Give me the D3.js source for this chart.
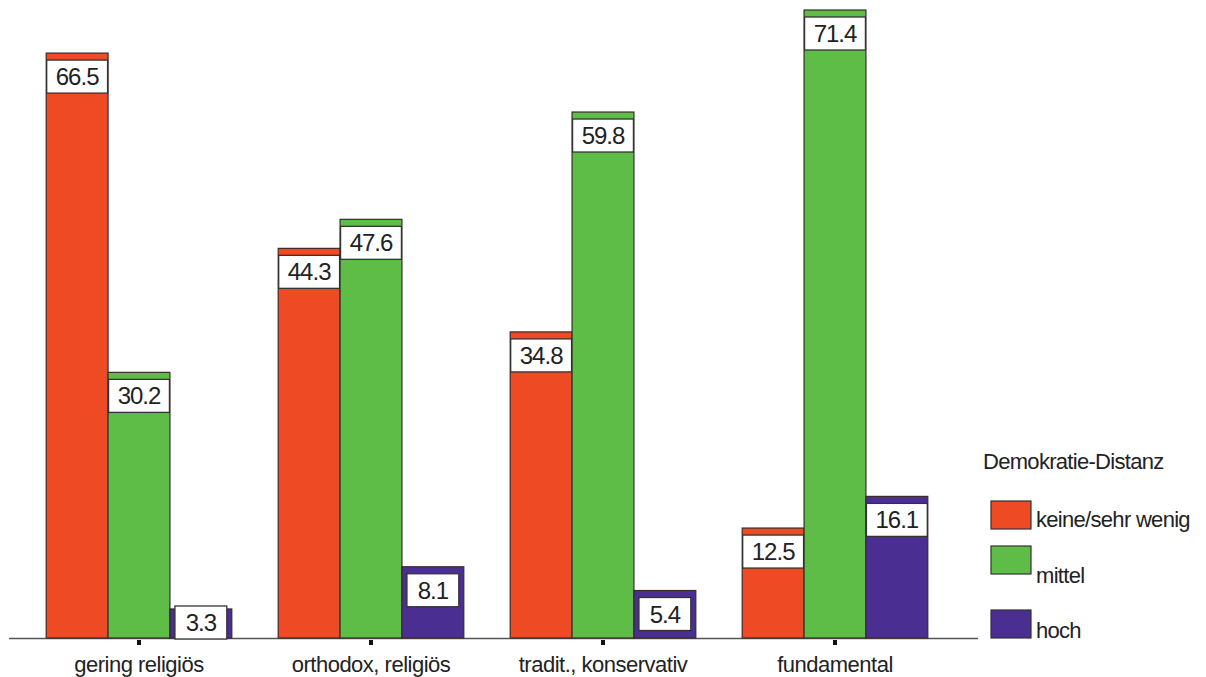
<!DOCTYPE html>
<html>
<head>
<meta charset="utf-8">
<script src="https://cdn.jsdelivr.net/npm/d3@7"></script>
<style>
  body { margin: 0; background: #fff; }
  text { font-family: "Liberation Sans", Arial, sans-serif; fill: #222; }
</style>
</head>
<body>
<script>
const categories = ["gering religiös", "orthodox, religiös", "tradit., konservativ", "fundamental"];
const series = ["keine/sehr wenig", "mittel", "hoch"];
const keineValues = [66.5, 44.3, 34.8, 12.5];
const mittelValues = [30.2, 47.6, 59.8, 71.4];
const hochValues = [3.3, 8.1, 5.4, 16.1];
const legendTitle = "Demokratie-Distanz";

const colors = ["#ee4a23", "#5dbd47", "#4b2e92"];
const valuesBySeries = [keineValues, mittelValues, hochValues];

const width = 1206, height = 677;
const baseY = 638;

let svg = d3.select("body")
    .append("svg")
    .attr("width", width)
    .attr("height", height);

let x0 = d3.scaleBand()
    .domain(categories)
    .range([23, 951])
    .paddingInner(0.2)
    .paddingOuter(0.1);

let x1 = d3.scaleBand()
    .domain(series)
    .range([0, x0.bandwidth()]);

let y = d3.scaleLinear()
    .domain([0, 71.4])
    .range([baseY, 10]);

let data = [];
categories.forEach((c, i) => {
    series.forEach((s, j) => {
        data.push({cat: c, ser: s, value: valuesBySeries[j][i], color: colors[j]});
    });
});

// axis line
svg.append("line")
    .attr("x1", 9).attr("x2", 978)
    .attr("y1", baseY + 0.5).attr("y2", baseY + 0.5)
    .style("stroke", "#555")
    .style("stroke-width", 1.5);

let groups = svg.selectAll("g.bar")
    .data(data)
    .join("g")
    .attr("class", "bar")
    .attr("transform", d => "translate(" + (x0(d.cat) + x1(d.ser)) + ",0)");

groups.append("rect")
    .attr("x", 0)
    .attr("y", d => y(d.value))
    .attr("width", x1.bandwidth())
    .attr("height", d => baseY - y(d.value))
    .style("fill", d => d.color)
    .style("stroke", "#3a2a2a")
    .style("stroke-width", 1.2);

const boxH = 33;
groups.append("rect")
    .attr("x", d => d.value < 10 ? 5 : 0.5)
    .attr("y", d => Math.min(y(d.value) + 7, baseY - boxH + 1))
    .attr("width", d => d.value < 10 ? x1.bandwidth() - 10 : x1.bandwidth() - 1)
    .attr("height", boxH)
    .style("fill", "#fff")
    .style("stroke", "#333")
    .style("stroke-width", 1.3);

groups.append("text")
    .attr("x", x1.bandwidth() / 2)
    .attr("y", d => Math.min(y(d.value) + 7, baseY - boxH + 1) + boxH / 2 + 8.5)
    .attr("text-anchor", "middle")
    .style("font-size", "24px")
    .style("letter-spacing", "-1px")
    .text(d => d.value.toFixed(1));

// ticks and category labels
let cats = svg.selectAll("g.cat")
    .data(categories)
    .join("g")
    .attr("class", "cat")
    .attr("transform", d => "translate(" + (x0(d) + x0.bandwidth() / 2) + ",0)");

cats.append("rect")
    .attr("x", -2).attr("y", baseY + 2)
    .attr("width", 4).attr("height", 5)
    .style("fill", "#111");

cats.append("text")
    .attr("y", 672)
    .attr("text-anchor", "middle")
    .style("font-size", "22px")
    .style("letter-spacing", "-0.5px")
    .text(d => d);

// legend
svg.append("text")
    .attr("x", 983).attr("y", 469)
    .style("font-size", "22px")
    .style("letter-spacing", "-0.7px")
    .text(legendTitle);

const legendY = [501, 546, 610];
const legendTextY = [527, 583, 638];
let leg = svg.selectAll("g.leg")
    .data(series)
    .join("g")
    .attr("class", "leg");

leg.append("rect")
    .attr("x", 991)
    .attr("y", (d, i) => legendY[i])
    .attr("width", 40).attr("height", 28)
    .style("fill", (d, i) => colors[i])
    .style("stroke", "#333")
    .style("stroke-width", 1.2);

leg.append("text")
    .attr("x", 1036)
    .attr("y", (d, i) => legendTextY[i])
    .style("font-size", "22px")
    .style("letter-spacing", "-0.7px")
    .text(d => d);
</script>
</body>
</html>
